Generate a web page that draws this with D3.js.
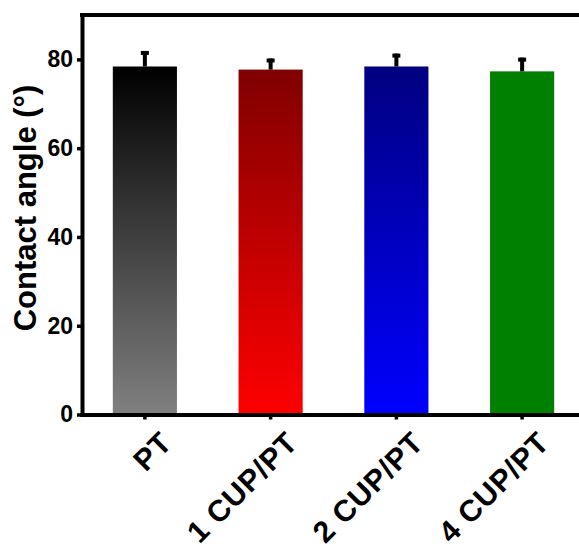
<!DOCTYPE html>
<html>
<head>
<meta charset="utf-8">
<script src="https://cdn.jsdelivr.net/npm/d3@7"></script>
<style>
  body { margin: 0; background: #fff; }
  svg { display: block; }
  svg text { font-family: "Liberation Sans", Arial, sans-serif; font-weight: bold; fill: #000; }
</style>
</head>
<body>
<svg width="579" height="549"></svg>
<script>
const categories = ['PT', '1 CUP/PT', '2 CUP/PT', '4 CUP/PT'];
const angles = [78.4, 77.7, 78.4, 77.3];
const errors = [3.5, 2.5, 2.9, 3.1];
const topColors = ['#000000', '#800000', '#000080', '#008000'];
const bottomColors = ['#808080', '#ff0000', '#0000ff', '#008000'];
const yTicks = [0, 20, 40, 60, 80];

const data = categories.map((c, i) => ({ cat: c, v: angles[i], e: errors[i], top: topColors[i], bot: bottomColors[i], id: 'grad' + i }));

const svg = d3.select('svg');
const margens = { left: 82, top: 15, bottom: 414.5, right: 585 };

// ---- Escalas
const x = d3.scaleBand()
    .domain(categories)
    .range([margens.left, margens.right])
    .paddingInner(0.49)
    .paddingOuter(0.245);

const y = d3.scaleLinear()
    .domain([0, 90])
    .range([margens.bottom, margens.top]);

// ---- Gradientes
const defs = svg.append('defs');
data.forEach(d => {
    const g = defs.append('linearGradient')
        .attr('id', d.id)
        .attr('x1', 0).attr('y1', 0).attr('x2', 0).attr('y2', 1);
    g.append('stop').attr('offset', '0%').attr('stop-color', d.top);
    g.append('stop').attr('offset', '100%').attr('stop-color', d.bot);
});

// ---- Barras
svg.selectAll('.barra')
    .data(data)
    .enter()
    .append('rect')
    .attr('class', 'barra')
    .attr('x', d => x(d.cat))
    .attr('y', d => y(d.v))
    .attr('width', x.bandwidth())
    .attr('height', d => y(0) - y(d.v))
    .attr('fill', d => `url(#${d.id})`);

// ---- Barras de erro
const eb = svg.selectAll('.erro')
    .data(data)
    .enter()
    .append('g')
    .attr('class', 'erro');

eb.append('rect')
    .attr('x', d => x(d.cat) + x.bandwidth() / 2 - 2)
    .attr('y', d => y(d.v + d.e))
    .attr('width', 4)
    .attr('height', d => y(d.v) - y(d.v + d.e))
    .attr('fill', '#000');

eb.append('rect')
    .attr('x', d => x(d.cat) + x.bandwidth() / 2 - 4)
    .attr('y', d => y(d.v + d.e))
    .attr('width', 8)
    .attr('height', 4)
    .attr('fill', '#000');

// ---- Eixos
const eixoY = svg.append('g')
    .attr('transform', `translate(${margens.left}, 0)`)
    .call(d3.axisLeft(y).tickValues(yTicks).tickSize(5).tickSizeOuter(0).tickPadding(4));

eixoY.select('.domain').attr('stroke-width', 4).attr('stroke-linecap', 'square');
eixoY.selectAll('.tick line').attr('stroke-width', 3.5);
eixoY.selectAll('.tick text')
    .style('font-size', '23px');

const eixoX = svg.append('g')
    .attr('transform', `translate(0, ${margens.bottom})`)
    .call(d3.axisBottom(x).tickSize(5).tickSizeOuter(0));

eixoX.select('.domain').attr('stroke-width', 4).attr('stroke-linecap', 'square');
eixoX.selectAll('.tick line').attr('stroke-width', 3.5);
eixoX.selectAll('.tick text')
    .attr('y', null)
    .attr('dy', null)
    .attr('text-anchor', 'end')
    .attr('transform', 'translate(29, 30) rotate(-45)')
    .style('font-size', '30px')
    .style('letter-spacing', '0.8px');

// ---- Moldura superior
svg.append('line')
    .attr('x1', margens.left)
    .attr('x2', margens.right)
    .attr('y1', margens.top)
    .attr('y2', margens.top)
    .attr('stroke', '#000')
    .attr('stroke-width', 4)
    .attr('stroke-linecap', 'square');

// ---- Rotulo do eixo Y
svg.append('text')
    .attr('transform', 'rotate(-90)')
    .attr('x', -208)
    .attr('y', 36)
    .attr('text-anchor', 'middle')
    .style('font-size', '31px')
    .text('Contact angle (°)');
</script>
</body>
</html>
